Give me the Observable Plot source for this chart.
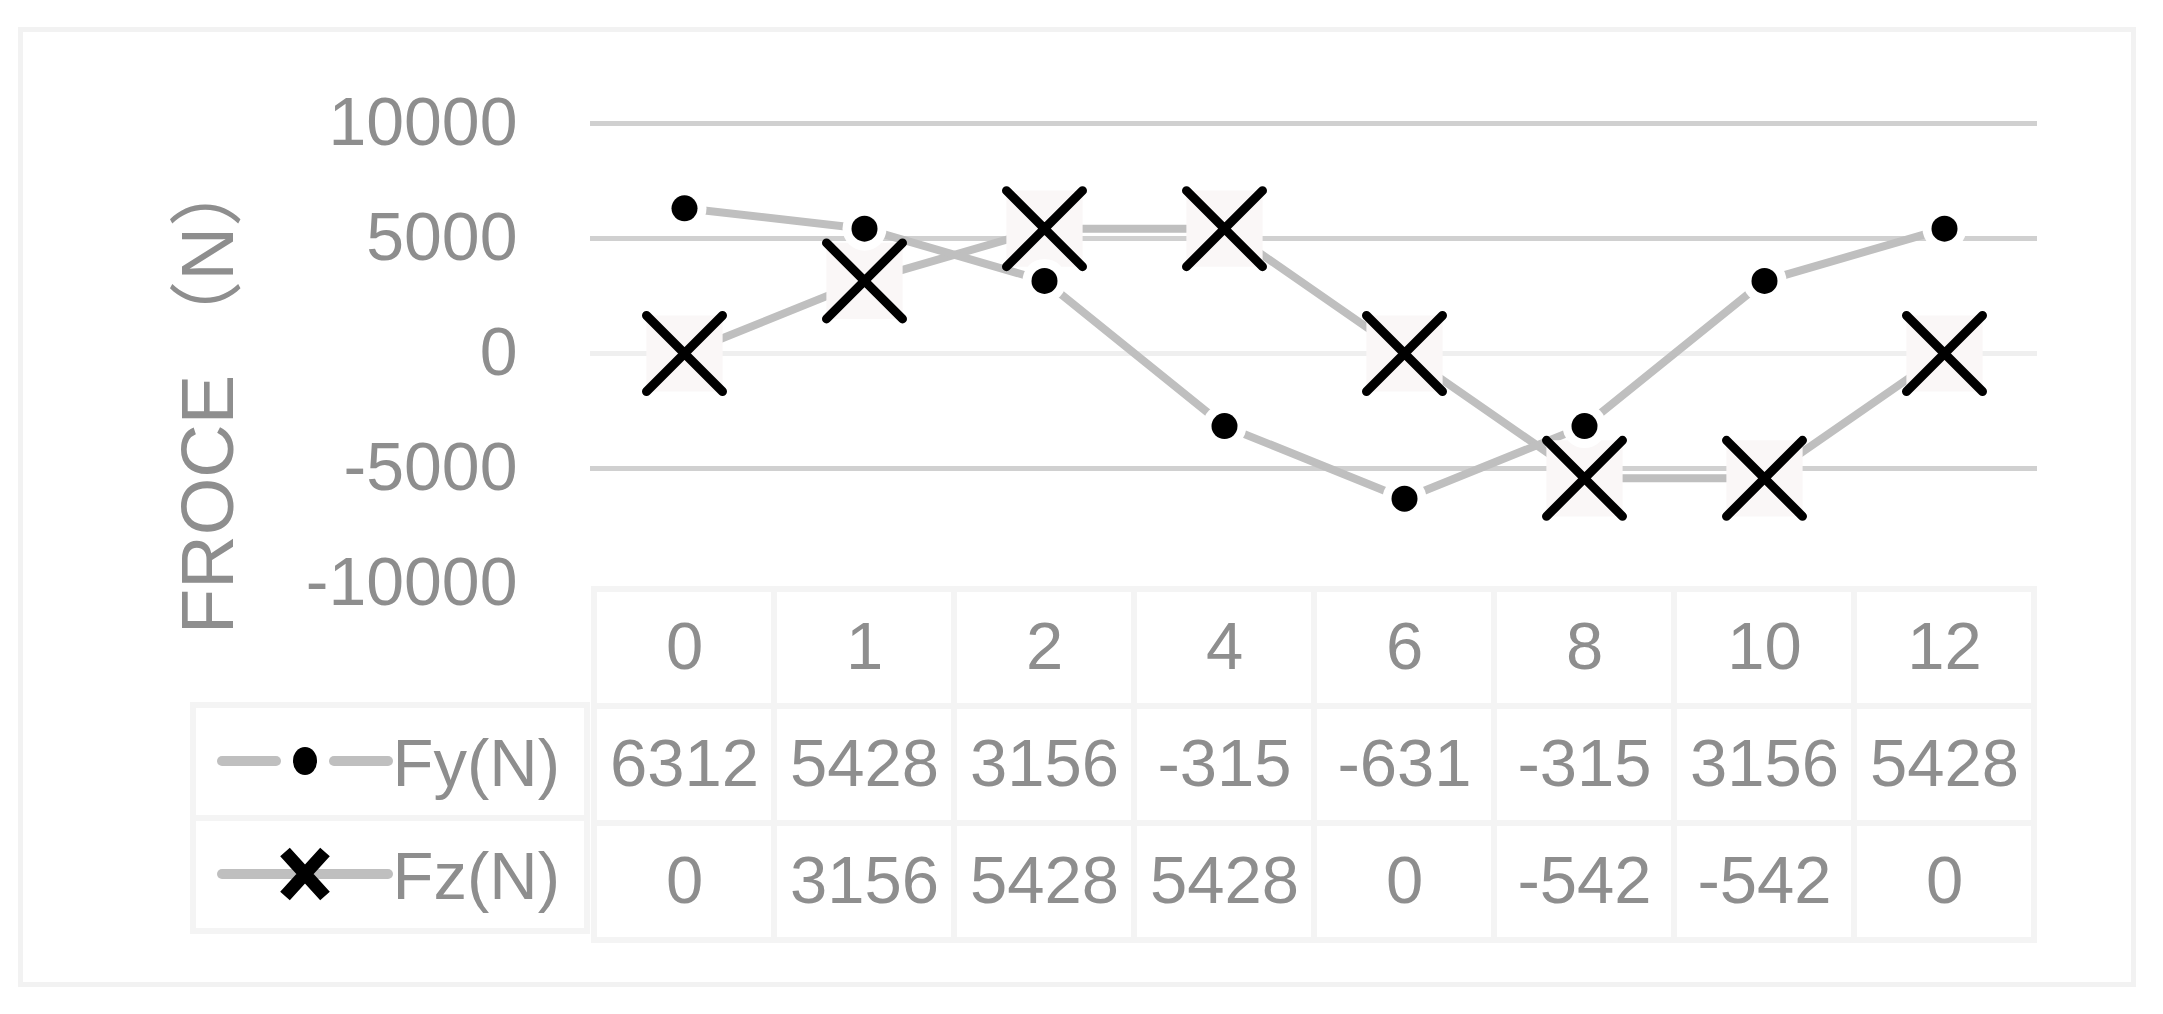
<!DOCTYPE html>
<html>
<head>
<meta charset="utf-8">
<script src="https://cdn.jsdelivr.net/npm/d3@7"></script>
<script src="https://cdn.jsdelivr.net/npm/@observablehq/plot@0.6"></script>
<style>
  html, body { margin: 0; padding: 0; background: #ffffff; }
  #wrap { position: relative; width: 2163px; height: 1014px; overflow: hidden;
          font-family: "Liberation Sans", Arial, Helvetica, "Noto Sans CJK SC", sans-serif; }
  #outer { position: absolute; left: 18px; top: 27px; width: 2108px; height: 950px;
           border: 5px solid #f2f2f2; box-sizing: content-box; }
  .layer { position: absolute; left: 0; }
  #legend { position: absolute; left: 190px; top: 702px; width: 400px; }
  .lrow { position: relative; height: 119px; box-sizing: border-box; border: 6px solid #f4f4f4;
          background: #fff; }
  .lrow + .lrow { margin-top: -6px; }
  .lrow svg { position: absolute; left: 16px; top: 0; }
  .lrow span { position: absolute; right: 24px; top: 50%; transform: translateY(-50%);
               font-size: 67px; color: #8e8e8e; line-height: 1; }
</style>
</head>
<body>
<div id="wrap">
  <div id="outer"></div>
</div>
<script>
// ---- data ----
const categories = ["0", "1", "2", "4", "6", "8", "10", "12"];
const fyValues = [6312, 5428, 3156, -3156, -6312, -3156, 3156, 5428];
const fzValues = [0, 3156, 5428, 5428, 0, -5428, -5428, 0];
const fyLabels = ["6312", "5428", "3156", "-315", "-631", "-315", "3156", "5428"];
const fzLabels = ["0", "3156", "5428", "5428", "0", "-542", "-542", "0"];
const seriesNames = ["Fy(N)", "Fz(N)"];
const yTicks = [-10000, -5000, 0, 5000, 10000];
const yTitle = "FROCE （N）";

// ---- derived tables ----
const fy = categories.map((c, i) => ({cat: c, value: fyValues[i]}));
const fz = categories.map((c, i) => ({cat: c, value: fzValues[i]}));
const rowKeys = ["cat", "Fy", "Fz"];
const cells = [
  ...categories.map(c => ({cat: c, row: "cat", label: c})),
  ...categories.map((c, i) => ({cat: c, row: "Fy", label: fyLabels[i]})),
  ...categories.map((c, i) => ({cat: c, row: "Fz", label: fzLabels[i]}))
];

const FONT = "'Liberation Sans', Arial, Helvetica, 'Noto Sans CJK SC', sans-serif";
const TEXT = "#8e8e8e";
const LINE = "#bfbfbf";

const times = {
  draw(ctx, size) {
    const r = Math.sqrt(size / Math.PI);
    ctx.moveTo(-r, -r); ctx.lineTo(r, r);
    ctx.moveTo(r, -r); ctx.lineTo(-r, r);
  }
};

const xOpts = {type: "band", domain: categories, padding: 0, axis: null};
const W = 2163, ML = 590, MR = 126;

// ---- chart ----
const chart = Plot.plot({
  width: W, height: 590,
  marginLeft: ML, marginRight: MR, marginTop: 123, marginBottom: 7,
  x: xOpts,
  y: {domain: [-10000, 10000], axis: null},
  style: {fontFamily: FONT, background: "none", overflow: "visible", color: TEXT},
  marks: [
    Plot.ruleY(yTicks.filter(t => t !== -10000 && t !== 0), {stroke: "#d0d0d0", strokeWidth: 5}),
    Plot.ruleY([0], {stroke: "#efefef", strokeWidth: 5}),
    Plot.axisY(yTicks, {tickSize: 0, tickPadding: 73, fontSize: 68, fill: TEXT, label: null,
                        tickFormat: d => String(d)}),
    Plot.text([yTitle], {frameAnchor: "left", textAnchor: "middle", dx: -381, dy: 40, rotate: -90,
                         fontSize: 74, fill: TEXT}),
    Plot.lineY(fz, {x: "cat", y: "value", stroke: LINE, strokeWidth: 8}),
    Plot.lineY(fy, {x: "cat", y: "value", stroke: LINE, strokeWidth: 8}),
    Plot.dot(fz, {x: "cat", y: "value", symbol: "square", r: 43, fill: "#faf7f7", ariaLabel: "fz-back"}),
    Plot.dot(fz, {x: "cat", y: "value", symbol: times, r: 38, stroke: "#000", strokeWidth: 9,
                  fill: "none", strokeLinecap: "round"}),
    Plot.dot(fy, {x: "cat", y: "value", r: 22, fill: "#fff", ariaLabel: "fy-halo"}),
    Plot.dot(fy, {x: "cat", y: "value", r: 13, fill: "#000"})
  ]
});
chart.classList.add("layer");
chart.style.top = "0px";

// shadows
const defs = d3.select(chart).insert("defs", ":first-child");
defs.append("filter").attr("id", "shX").attr("x", "-50%").attr("y", "-50%").attr("width", "200%").attr("height", "200%")
  .append("feDropShadow").attr("dx", 0).attr("dy", 9).attr("stdDeviation", 7)
  .attr("flood-color", "#5a3030").attr("flood-opacity", 0.3);
defs.append("filter").attr("id", "shY").attr("x", "-50%").attr("y", "-50%").attr("width", "200%").attr("height", "200%")
  .append("feDropShadow").attr("dx", 0).attr("dy", 7).attr("stdDeviation", 5)
  .attr("flood-color", "#3c4a5a").attr("flood-opacity", 0.35);
d3.select(chart).select('g[aria-label="fz-back"]').attr("filter", "url(#shX)");
d3.select(chart).select('g[aria-label="fy-halo"]').attr("filter", "url(#shY)");

// ---- data table ----
const table = Plot.plot({
  width: W, height: 426,
  marginLeft: ML, marginRight: MR, marginTop: 0, marginBottom: 74,
  x: xOpts,
  y: {type: "band", domain: rowKeys, padding: 0, axis: null},
  style: {fontFamily: FONT, background: "none", overflow: "visible"},
  marks: [
    Plot.cell(cells, {x: "cat", y: "row", fill: "#fff", stroke: "#f4f4f4", strokeWidth: 6}),
    Plot.text(cells, {x: "cat", y: "row", text: "label", fontSize: 67, fill: TEXT})
  ]
});
table.classList.add("layer");
table.style.top = "588px";

const wrap = document.getElementById("wrap");
wrap.appendChild(chart);
wrap.appendChild(table);

// ---- legend column ----
const legend = d3.select(wrap).append("div").attr("id", "legend");
seriesNames.forEach((name, i) => {
  const row = legend.append("div").attr("class", "lrow");
  const svg = row.append("svg").attr("width", 190).attr("height", 107);
  const cy = 53;
  if (i === 0) {
    svg.append("line").attr("x1", 10).attr("x2", 64).attr("y1", cy).attr("y2", cy)
      .attr("stroke", LINE).attr("stroke-width", 10).attr("stroke-linecap", "round");
    svg.append("line").attr("x1", 122).attr("x2", 176).attr("y1", cy).attr("y2", cy)
      .attr("stroke", LINE).attr("stroke-width", 10).attr("stroke-linecap", "round");
    svg.append("ellipse").attr("cx", 93).attr("cy", cy).attr("rx", 12).attr("ry", 14).attr("fill", "#000");
  } else {
    svg.append("line").attr("x1", 10).attr("x2", 176).attr("y1", cy).attr("y2", cy)
      .attr("stroke", LINE).attr("stroke-width", 10).attr("stroke-linecap", "round");
    svg.append("path").attr("d", `M${93 - 20},${cy - 22}L${93 + 20},${cy + 22}M${93 + 20},${cy - 22}L${93 - 20},${cy + 22}`)
      .attr("stroke", "#000").attr("stroke-width", 13).attr("fill", "none");
  }
  row.append("span").text(name);
});
</script>
</body>
</html>
